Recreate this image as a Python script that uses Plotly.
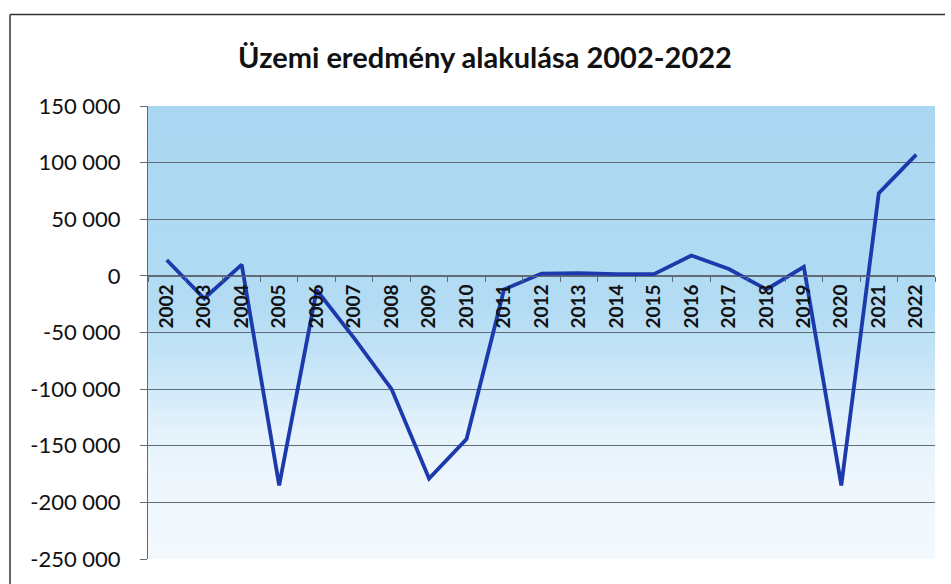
import base64
import plotly.graph_objects as go

# Operating result per year (HUF thousand)
years = [str(y) for y in range(2002, 2023)]
results = [14000, -20000, 10000, -185000, -12500, -55000, -100000, -179000,
           -144000, -12000, 2000, 2500, 1500, 1500, 18000, 6000, -12000,
           8000, -185000, 73000, 107000]

y_ticks = [150000, 100000, 50000, 0, -50000, -100000, -150000, -200000, -250000]
y_tick_text = ["150 000", "100 000", "50 000", "0", "-50 000", "-100 000",
               "-150 000", "-200 000", "-250 000"]

title_text = "Üzemi eredmény alakulása 2002-2022"

y_min, y_max = -250000, 150000
zero_pos = (0 - y_min) / (y_max - y_min)

# Vertical blue-to-white fill for the plotting area
gradient_svg = (
    '<svg xmlns="http://www.w3.org/2000/svg" width="100" height="100" '
    'preserveAspectRatio="none">'
    '<defs><linearGradient id="g" x1="0" y1="0" x2="0" y2="1">'
    '<stop offset="0" stop-color="#a9d6f1"/>'
    '<stop offset="0.45" stop-color="#b3dcf4"/>'
    '<stop offset="0.58" stop-color="#c8e6f8"/>'
    '<stop offset="0.72" stop-color="#e4f2fb"/>'
    '<stop offset="0.85" stop-color="#eff7fd"/>'
    '<stop offset="1" stop-color="#f3f9fd"/>'
    '</linearGradient></defs>'
    '<rect width="100" height="100" fill="url(#g)"/></svg>'
)
gradient_uri = "data:image/svg+xml;base64," + base64.b64encode(gradient_svg.encode()).decode()

fig = go.Figure()
fig.add_trace(go.Scatter(
    x=years, y=results, mode="lines",
    line=dict(color="#1c3aac", width=3.8),
    hoverinfo="x+y",
))

grid_color = "#5f6b78"

fig.update_layout(
    width=951, height=584,
    margin=dict(l=148, r=16, t=106, b=22),
    paper_bgcolor="white",
    plot_bgcolor="#f3f9fd",
    showlegend=False,
    font=dict(family="Lato, 'Open Sans', sans-serif", color="#111111"),
    title=dict(
        text=f"<b>{title_text}</b>",
        x=485 / 951, xref="container", xanchor="center",
        y=1 - 58 / 584, yref="container", yanchor="middle",
        font=dict(size=29, color="#111111"),
    ),
    xaxis=dict(
        type="category",
        anchor="free", position=zero_pos,
        showline=True, linecolor=grid_color, linewidth=1,
        ticks="outside", tickson="boundaries", ticklen=5,
        tickcolor=grid_color, tickwidth=1,
        tickangle=-90,
        tickfont=dict(size=19, color="#111111", family="Lato, sans-serif", weight="bold"),
        showgrid=False, zeroline=False,
        range=[-0.5, len(years) - 0.5],
    ),
    yaxis=dict(
        range=[y_min, y_max],
        tickvals=y_ticks, ticktext=y_tick_text,
        showgrid=True, gridcolor=grid_color, gridwidth=1,
        zeroline=False,
        showline=True, linecolor=grid_color, linewidth=1,
        ticks="outside", ticklen=7, tickcolor=grid_color,
        tickfont=dict(size=22, color="#111111"),
        ticklabelstandoff=15,
    ),
    images=[dict(
        source=gradient_uri, xref="paper", yref="paper",
        x=0, y=1, sizex=1, sizey=1, xanchor="left", yanchor="top",
        sizing="stretch", layer="below",
    )],
    shapes=[
        # outer chart frame
        dict(type="line", xref="paper", yref="paper",
             x0=-138 / 787, x1=1.0 + 10 / 787, y0=1 + 92 / 456, y1=1 + 92 / 456,
             line=dict(color="#333333", width=1.5)),
        dict(type="line", xref="paper", yref="paper",
             x0=-138 / 787, x1=-138 / 787, y0=1 + 92 / 456, y1=-30 / 456,
             line=dict(color="#333333", width=1.5)),
    ],
)

fig.write_html("out.html")
